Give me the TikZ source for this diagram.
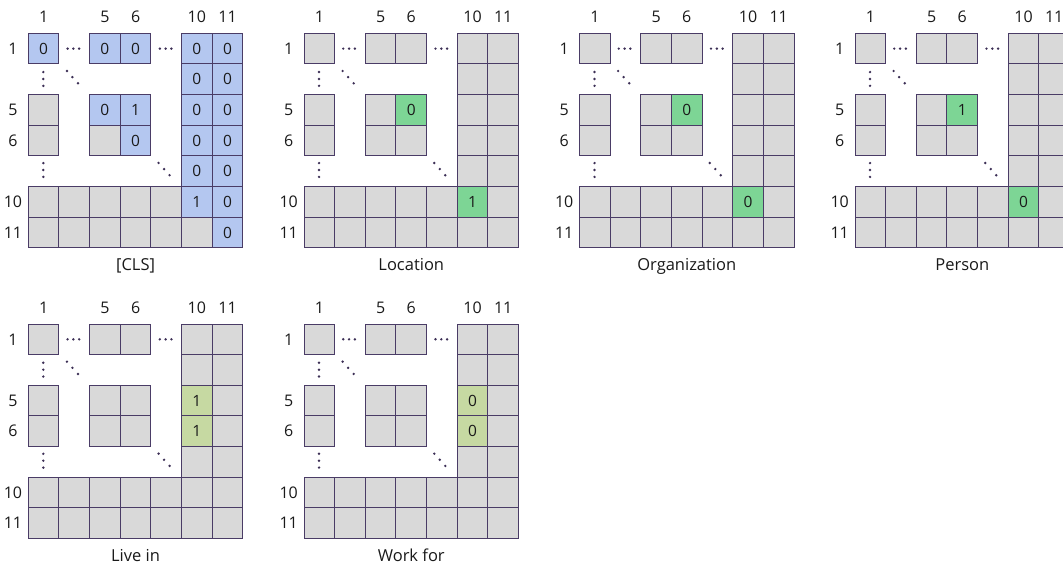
\documentclass[tikz,border=0pt]{standalone}
\usepackage{fontspec}
\setmainfont{Open Sans}
\definecolor{bord}{HTML}{4A3C66}
\definecolor{cellgray}{HTML}{D9D9D9}
\definecolor{clsblue}{HTML}{B4C7F0}
\definecolor{entgreen}{HTML}{7DD595}
\definecolor{relgreen}{HTML}{C6D9A2}
\definecolor{dotcol}{HTML}{3C2F55}
\definecolor{txt}{HTML}{1A1A1A}
\tikzset{
  cellbox/.style={draw=bord, line width=1pt, fill=cellgray, minimum size=30.65pt,
    inner sep=0pt, font=\fontsize{15.5}{17}\selectfont, text=txt},
  lbl/.style={font=\fontsize{16}{18}\selectfont, text=txt, inner sep=0pt},
  captext/.style={font=\fontsize{16.5}{18}\selectfont, text=txt, inner sep=0pt, anchor=base},
  dotfill/.style={fill=dotcol},
}
% #1 name, #2 x, #3 y, #4 caption, #5 highlight colour, #6 list col/row/value
\newcommand{\maskgrid}[6]{%
  \begin{scope}[shift={(#2,#3)}, x=30.65pt, y=-30.65pt]
    \foreach \c/\r in {1/1,3/1,4/1,6/1,7/1,6/2,7/2,1/3,3/3,4/3,6/3,7/3,1/4,3/4,4/4,6/4,7/4,6/5,7/5,1/6,2/6,3/6,4/6,5/6,6/6,7/6,1/7,2/7,3/7,4/7,5/7,6/7,7/7}
      \node[cellbox] (#1-\c-\r) at (\c-0.5,\r-0.5) {};
    \foreach \c/\r/\v in {#6}
      \node[cellbox, fill=#5] (#1-\c-\r) at (\c-0.5,\r-0.5) {\v};
    \foreach \c/\t in {1/1,3/5,4/6,6/10,7/11}{
      \node[lbl] (#1-col\c) at (\c-0.5,-0.525) {\t};
      \node[lbl] (#1-row\c) at (-0.5,\c-0.5) {\t};
    }
    \node[captext] (#1-cap) at (3.5,7.745) {#4};
    \foreach \d in {-1,0,1}{
      \fill[dotfill] (1.47+\d*0.19,0.5) circle (1.35pt);
      \fill[dotfill] (4.48+\d*0.19,0.5) circle (1.35pt);
      \fill[dotfill] (0.49,1.49+\d*0.225) circle (1.35pt);
      \fill[dotfill] (0.49,4.46+\d*0.225) circle (1.35pt);
      \fill[dotfill] (1.44+\d*0.18,1.43+\d*0.2) circle (1.35pt);
      \fill[dotfill] (4.43+\d*0.18,4.43+\d*0.2) circle (1.35pt);
    }
  \end{scope}}
\begin{document}
\begin{tikzpicture}[x=1pt, y=-1pt]
  \fill[white] (0,0) rectangle (1063,570);
  \useasboundingbox (0,0) rectangle (1063,570);
  \maskgrid{cls}{28.3}{33.3}{[CLS]}{clsblue}{1/1/0,3/1/0,4/1/0,6/1/0,7/1/0,6/2/0,7/2/0,3/3/0,4/3/1,6/3/0,7/3/0,4/4/0,6/4/0,7/4/0,6/5/0,7/5/0,6/6/1,7/6/0,7/7/0}
  \maskgrid{loc}{304}{33.3}{Location}{entgreen}{4/3/0,6/6/1}
  \maskgrid{org}{579.5}{33.3}{Organization}{entgreen}{4/3/0,6/6/0}
  \maskgrid{per}{855}{33.3}{Person}{entgreen}{4/3/1,6/6/0}
  \maskgrid{live}{28.3}{324}{Live in}{relgreen}{6/3/1,6/4/1}
  \maskgrid{work}{304}{324}{Work for}{relgreen}{6/3/0,6/4/0}
\end{tikzpicture}
\end{document}
